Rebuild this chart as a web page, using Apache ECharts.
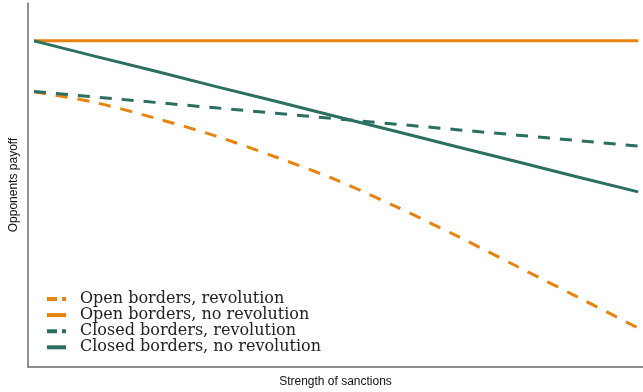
<!DOCTYPE html>
<html>
<head>
<meta charset="utf-8">
<script src="https://cdn.jsdelivr.net/npm/echarts@6/dist/echarts.min.js"></script>
<style>
  html, body { margin: 0; padding: 0; background: #ffffff; }
  #chart { width: 643px; height: 392px; }
</style>
</head>
<body>
<div id="chart"></div>
<script>
// Strength of sanctions (arbitrary units, 0 = none, 100 = maximal)
const sanctions = [0, 10, 20, 30, 40, 50, 60, 70, 80, 90, 100];

// Opponents' payoff under each scenario
const openRevolution     = [75.6, 72.7, 68.4, 63.5, 57.7, 51.4, 44.0, 36.0, 27.6, 19.2, 10.7];
const openNoRevolution   = [89.6, 89.6, 89.6, 89.6, 89.6, 89.6, 89.6, 89.6, 89.6, 89.6, 89.6];
const closedRevolution   = [75.7, 74.2, 72.7, 71.2, 69.7, 68.2, 66.7, 65.2, 63.7, 62.2, 60.7];
const closedNoRevolution = [89.6, 85.4, 81.3, 77.1, 73.0, 68.8, 64.7, 60.5, 56.4, 52.2, 48.1];

const seriesNames = [
  'Open borders, revolution',
  'Open borders, no revolution',
  'Closed borders, revolution',
  'Closed borders, no revolution'
];

const ORANGE = '#E8830D';
const GREEN = '#2B6F62';

function pairs(values) {
  return sanctions.map((x, i) => [x, values[i]]);
}

function line(name, values, color, dashed) {
  return {
    name: name,
    type: 'line',
    data: pairs(values),
    showSymbol: false,
    symbol: 'none',
    smooth: dashed && color === ORANGE ? 0.3 : false,
    lineStyle: { color: color, width: 3, type: dashed ? [12, 10] : 'solid', cap: 'butt' },
    itemStyle: { color: color },
    emphasis: { disabled: true },
    animation: false
  };
}

// Legend swatches: a short thick bar, or a long and a short piece for dashed lines
const SOLID_KEY = 'path://M0,0h19v4h-19z';
const DASHED_KEY = 'path://M0,0h10v4h-10z M15,0h4v4h-4z';

function legendItem(name, dashed) {
  return { name: name, icon: dashed ? DASHED_KEY : SOLID_KEY };
}

const chart = echarts.init(document.getElementById('chart'), null, { renderer: 'canvas' });

chart.setOption({
  animation: false,
  backgroundColor: '#ffffff',
  grid: { left: 28, right: 0, top: 3, bottom: 25, containLabel: false, outerBoundsMode: 'none' },
  legend: {
    orient: 'vertical',
    left: 47,
    top: 291,
    padding: 0,
    itemWidth: 19,
    itemHeight: 4,
    itemGap: 0.1,
    data: [
      legendItem(seriesNames[0], true),
      legendItem(seriesNames[1], false),
      legendItem(seriesNames[2], true),
      legendItem(seriesNames[3], false)
    ],
    textStyle: { fontFamily: 'DejaVu Serif', fontSize: 16, lineHeight: 14, color: '#222222', padding: [0, 0, 0, 9] }
  },
  xAxis: {
    type: 'value',
    min: -1,
    max: 100.8,
    name: 'Strength of sanctions',
    nameLocation: 'middle',
    nameGap: 9,
    nameTextStyle: { fontFamily: 'Liberation Sans', fontSize: 12, color: '#111111' },
    axisLine: { show: true, onZero: false, lineStyle: { color: '#6b6b6b', width: 1.5 } },
    axisTick: { show: false },
    axisLabel: { show: false },
    splitLine: { show: false }
  },
  yAxis: {
    type: 'value',
    min: 0,
    max: 100,
    name: 'Opponents payoff',
    nameLocation: 'middle',
    nameGap: 8,
    nameRotate: 90,
    nameTextStyle: { fontFamily: 'Liberation Sans', fontSize: 12, color: '#111111' },
    axisLine: { show: true, onZero: false, lineStyle: { color: '#6b6b6b', width: 1.5 } },
    axisTick: { show: false },
    axisLabel: { show: false },
    splitLine: { show: false }
  },
  series: [
    line(seriesNames[0], openRevolution, ORANGE, true),
    line(seriesNames[1], openNoRevolution, ORANGE, false),
    line(seriesNames[2], closedRevolution, GREEN, true),
    line(seriesNames[3], closedNoRevolution, GREEN, false)
  ]
});
</script>
</body>
</html>
